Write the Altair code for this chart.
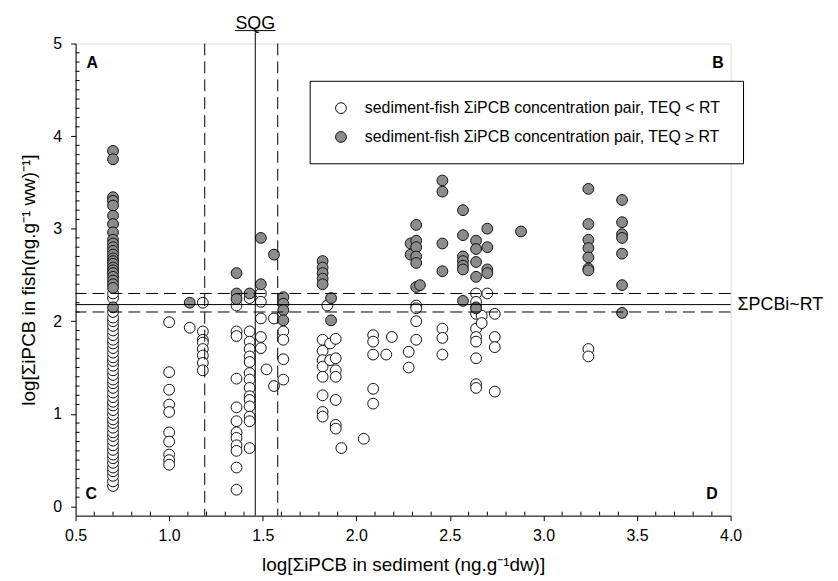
import altair as alt
import pandas as pd

# ---------------- data ----------------
# x = log[ΣiPCB in sediment], y lists = log[ΣiPCB in fish]
WHITE_X = [0.70, 1.00, 1.11, 1.18, 1.36, 1.43, 1.49, 1.52, 1.56, 1.61, 1.82, 1.845,
           1.86, 1.89, 1.92, 2.04, 2.09, 2.16, 2.19, 2.28, 2.32, 2.46, 2.64, 2.67,
           2.70, 2.74, 3.24]
WHITE_Y = [
    [0.22, 0.27, 0.33, 0.38, 0.42, 0.47, 0.52, 0.56, 0.61, 0.66, 0.71, 0.76, 0.80,
     0.85, 0.90, 0.94, 0.99, 1.04, 1.09, 1.13, 1.18, 1.23, 1.28, 1.33, 1.37, 1.42,
     1.47, 1.52, 1.57, 1.61, 1.66, 1.71, 1.76, 1.80, 1.85, 1.90, 1.95, 2.00, 2.04,
     2.10, 2.25, 2.30],
    [1.99, 1.45, 1.26, 1.10, 1.02, 0.80, 0.70, 0.56, 0.50, 0.45],
    [1.93],
    [2.20, 1.89, 1.80, 1.77, 1.70, 1.63, 1.55, 1.47],
    [2.17, 1.89, 1.84, 1.38, 1.07, 0.92, 0.80, 0.74, 0.66, 0.60, 0.42, 0.18],
    [2.25, 1.89, 1.78, 1.70, 1.62, 1.56, 1.44, 1.37, 1.28, 1.19, 1.15, 1.08, 0.97,
     0.92, 0.63],
    [2.30, 2.21, 2.03, 1.83, 1.71],
    [1.48],
    [2.03, 1.30],
    [1.89, 1.80, 1.59, 1.37],
    [1.80, 1.68, 1.58, 1.51, 1.40, 1.20, 1.02, 0.97],
    [2.17],
    [1.76, 1.58],
    [1.81, 1.60, 1.47, 1.40, 1.15, 0.88, 0.84],
    [0.63],
    [0.73],
    [1.85, 1.78, 1.64, 1.27, 1.11],
    [1.64],
    [1.83],
    [1.67, 1.50],
    [2.17, 2.14, 2.00, 1.80],
    [1.92, 1.82, 1.64],
    [2.30, 2.21, 2.15, 2.08, 1.92, 1.83, 1.78, 1.60, 1.32, 1.28],
    [2.06, 1.98],
    [2.30],
    [2.08, 1.83, 1.72, 1.24],
    [1.70, 1.62],
]

GRAY_X = [0.70, 1.11, 1.36, 1.43, 1.49, 1.56, 1.61, 1.82, 1.865, 2.29, 2.32, 2.34,
          2.46, 2.57, 2.64, 2.70, 2.88, 3.24, 3.42]
GRAY_Y = [
    [3.84, 3.75, 3.34, 3.30, 3.25, 3.14, 3.05, 2.96, 2.88, 2.84, 2.80, 2.76, 2.72,
     2.68, 2.65, 2.62, 2.58, 2.55, 2.52, 2.48, 2.44, 2.40, 2.36, 2.15],
    [2.20],
    [2.52, 2.30, 2.24],
    [2.30],
    [2.90, 2.40],
    [2.72],
    [2.26, 2.19, 2.12, 2.01],
    [2.65, 2.58, 2.52, 2.46, 2.40],
    [2.25, 2.01],
    [2.84, 2.72],
    [3.04, 2.87, 2.80, 2.70, 2.63, 2.37],
    [2.39],
    [3.52, 3.40, 2.84, 2.54],
    [3.20, 2.93, 2.70, 2.65, 2.60, 2.56, 2.22],
    [2.87, 2.78, 2.64, 2.48, 2.14],
    [3.00, 2.80, 2.56, 2.52],
    [2.97],
    [3.43, 3.05, 2.88, 2.79, 2.69, 2.57, 2.55],
    [3.31, 3.07, 2.94, 2.90, 2.73, 2.39, 2.09],
]

# reference lines
RT_LINES_DASHED = [2.30, 2.10]
RT_LINE_SOLID = [2.18]
SQG = 1.46
SQG_DASHED = [1.19, 1.58]

# axis ticks
X_MAJOR = [0.5, 1.0, 1.5, 2.0, 2.5, 3.0, 3.5, 4.0]
Y_MAJOR = [0, 1, 2, 3, 4, 5]
X_MINOR = [round(0.5 + 0.1 * i, 1) for i in range(36) if i % 5 != 0]
Y_MINOR = [round(0.1 * i, 1) for i in range(1, 50) if i % 10 != 0]

LEGEND_LABELS = ["sediment-fish \u03a3iPCB concentration pair, TEQ < RT",
                 "sediment-fish \u03a3iPCB concentration pair, TEQ \u2265 RT"]

# ---------------- build ----------------
def frame(xs, yss):
    rows = []
    for x, ys in zip(xs, yss):
        for y in ys:
            rows.append({"sed": x, "fish": y})
    return pd.DataFrame(rows)

white_df = frame(WHITE_X, WHITE_Y)
gray_df = frame(GRAY_X, GRAY_Y)

W, H = 659, 475
FONT = "Liberation Sans"
GRAY = "#8c8c8c"
SIZE = 118
ONE = alt.Data(values=[{}])

XS = alt.Scale(domain=[0.5, 4.0], nice=False, zero=False)
YS = alt.Scale(domain=[-0.1, 5.0], nice=False, zero=False)

x_axis = alt.Axis(values=X_MAJOR, format=".1f", tickSize=5, labelFontSize=16,
                  labelPadding=7, grid=False, domainColor="black", tickColor="black",
                  labelColor="black", labelFont=FONT, titleFont=FONT,
                  title="log[\u03a3iPCB in sediment (ng.g\u207b\u00b9dw)]",
                  titleFontSize=19, titleFontWeight="normal", titleColor="black",
                  titlePadding=12, labelFlush=False)
y_axis = alt.Axis(values=Y_MAJOR, format="d", tickSize=5, labelFontSize=16,
                  labelPadding=9, grid=False, domainColor="black", tickColor="black",
                  labelColor="black", labelFont=FONT, titleFont=FONT,
                  title="log[\u03a3iPCB in fish(ng.g\u207b\u00b9 ww)\u207b\u00b9]",
                  titleFontSize=19, titleFontWeight="normal", titleColor="black",
                  titlePadding=14, labelFlush=False)


def X(field):
    return alt.X(field, scale=XS, axis=x_axis)


def Y(field):
    return alt.Y(field, scale=YS, axis=y_axis)


white_layer = alt.Chart(white_df).mark_point(
    shape="circle", filled=True, fill="white", stroke="#111111", strokeWidth=1,
    size=SIZE, opacity=1).encode(x=X("sed:Q"), y=Y("fish:Q"))
gray_layer = alt.Chart(gray_df).mark_point(
    shape="circle", filled=True, fill=GRAY, stroke="#111111", strokeWidth=1,
    size=SIZE, opacity=1).encode(x=X("sed:Q"), y=Y("fish:Q"))

# minor ticks, pointing into the plot
x_minor = alt.Chart(pd.DataFrame({"x": X_MINOR})).mark_rule(
    color="black", strokeWidth=1).encode(
    x=X("x:Q"), y=alt.value(H), y2=alt.value(H - 4))
y_minor = alt.Chart(pd.DataFrame({"y": Y_MINOR})).mark_rule(
    color="black", strokeWidth=1).encode(
    y=Y("y:Q"), x=alt.value(0), x2=alt.value(4))

dash = [12, 6]
h_dashed = alt.Chart(pd.DataFrame({"y": RT_LINES_DASHED})).mark_rule(
    color="black", strokeWidth=1, strokeDash=dash).encode(y=Y("y:Q"))
h_solid = alt.Chart(pd.DataFrame({"y": RT_LINE_SOLID})).mark_rule(
    color="black", strokeWidth=1).encode(y=Y("y:Q"))
v_dashed = alt.Chart(pd.DataFrame({"x": SQG_DASHED})).mark_rule(
    color="black", strokeWidth=1, strokeDash=dash).encode(x=X("x:Q"))
v_solid = alt.Chart(pd.DataFrame({"x": [SQG], "y": [-0.1], "y2": [5.12]})).mark_rule(
    color="black", strokeWidth=1).encode(x=X("x:Q"), y=Y("y:Q"), y2="y2:Q")

sqg_text = alt.Chart(pd.DataFrame({"x": [SQG], "t": ["SQG"]})).mark_text(
    font=FONT, fontSize=18, color="black", align="center", baseline="alphabetic").encode(
    x=X("x:Q"), y=alt.value(-15), text="t:N")
sqg_under = alt.Chart(pd.DataFrame({"x": [SQG - 0.108], "x2": [SQG + 0.108]})).mark_rule(
    color="black", strokeWidth=1).encode(x=X("x:Q"), x2="x2:Q", y=alt.value(-13))

rt_text = alt.Chart(pd.DataFrame({"y": RT_LINE_SOLID, "t": ["\u03a3PCBi~RT"]})).mark_text(
    font=FONT, fontSize=18, color="black", align="left", baseline="middle").encode(
    y=Y("y:Q"), x=alt.value(W + 7), text="t:N")


def corner(letter, px, py, align):
    return alt.Chart(ONE).mark_text(
        text=letter, font=FONT, fontSize=16, fontWeight="bold", color="black",
        align=align, baseline="middle").encode(x=alt.value(px), y=alt.value(py))


corner_a = corner("A", 11, 20, "left")
corner_b = corner("B", 652, 20, "right")
corner_c = corner("C", 10, 453, "left")
corner_d = corner("D", 646, 453, "right")

# legend
legend_box = alt.Chart(ONE).mark_rect(
    fill="white", stroke="black", strokeWidth=1).encode(
    x=alt.value(236), x2=alt.value(672), y=alt.value(38), y2=alt.value(121))


def legend_item(py, fill, label):
    sym = alt.Chart(ONE).mark_point(
        shape="circle", filled=True, fill=fill, stroke="#111111", strokeWidth=1,
        size=SIZE, opacity=1).encode(x=alt.value(267), y=alt.value(py))
    txt = alt.Chart(ONE).mark_text(
        text=label, font=FONT, fontSize=16, color="black", align="left",
        baseline="middle").encode(x=alt.value(291), y=alt.value(py))
    return [sym, txt]


legend_layers = legend_item(65, "white", LEGEND_LABELS[0]) + legend_item(94, GRAY, LEGEND_LABELS[1])

chart = alt.layer(
    white_layer, gray_layer, h_dashed, h_solid, v_dashed, v_solid, x_minor, y_minor,
    sqg_text, sqg_under, rt_text, corner_a, corner_b, corner_c, corner_d,
    legend_box, *legend_layers,
).properties(
    width=W, height=H, autosize="none",
    padding={"left": 68, "top": 34, "right": 100, "bottom": 63},
).configure_view(stroke="black", strokeWidth=1).configure(background="white")

chart.save("out.html", embed_options={"renderer": "svg", "actions": False})
